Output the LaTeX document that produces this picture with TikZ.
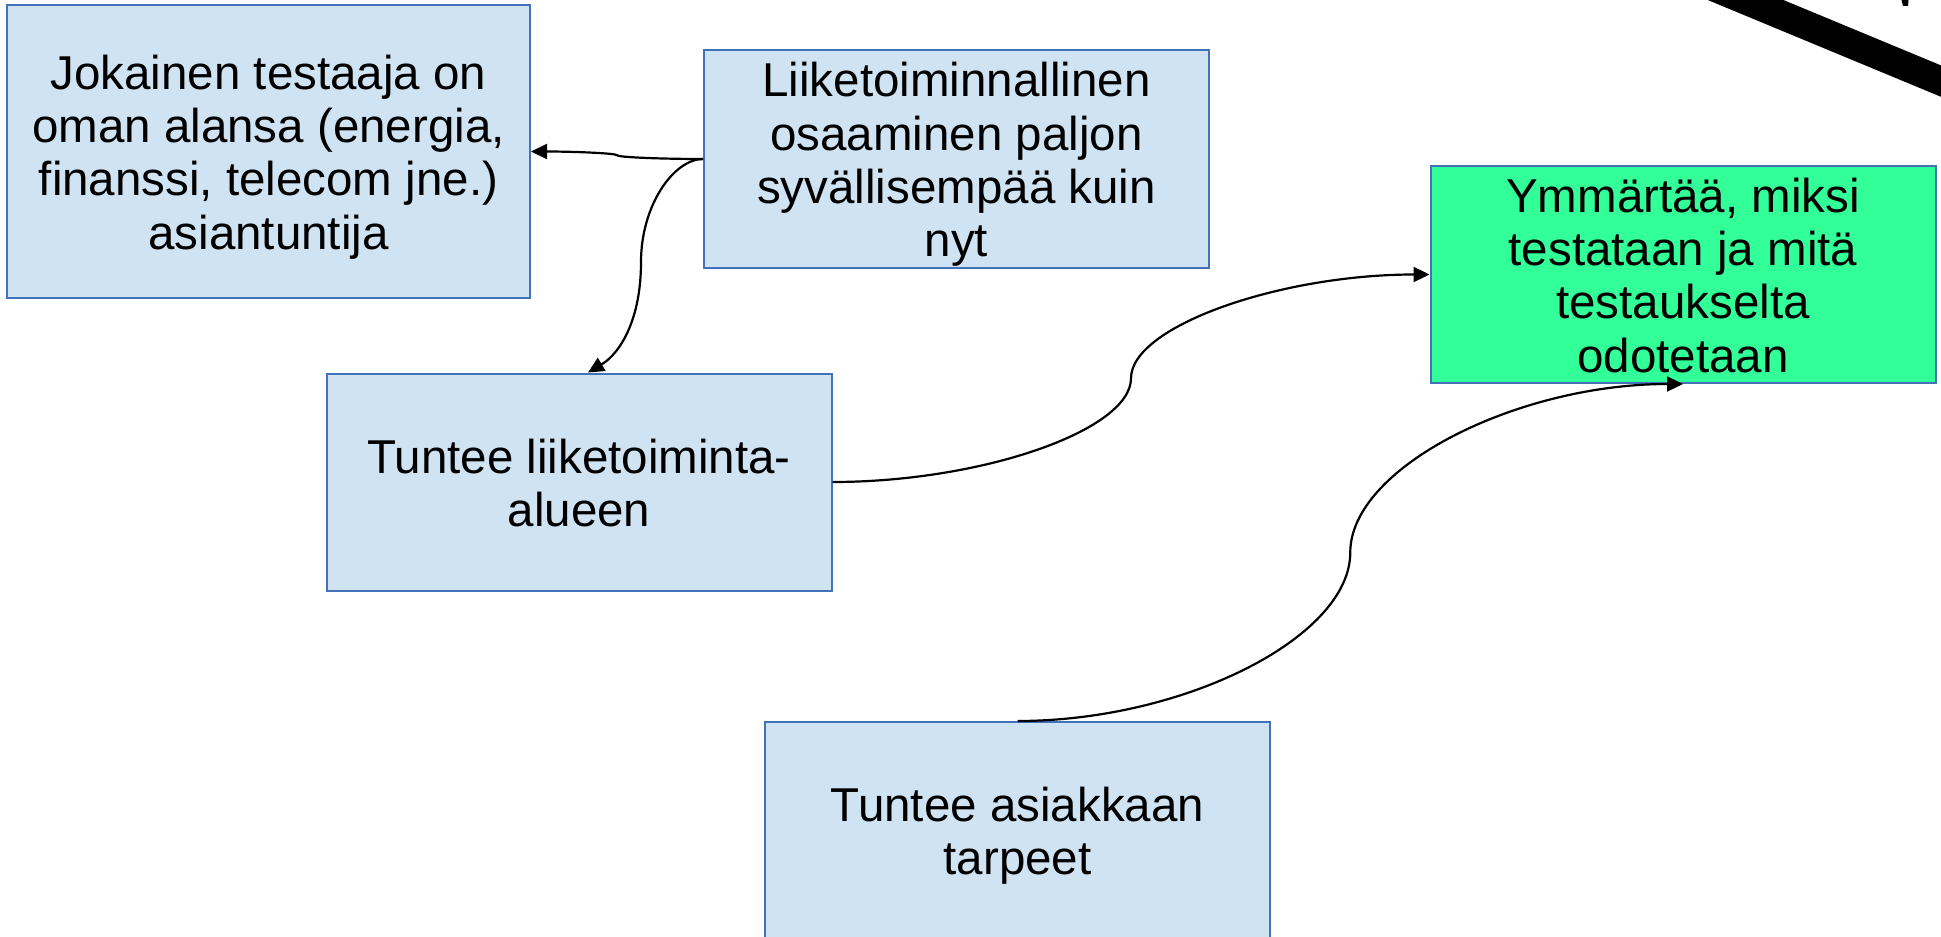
\documentclass[tikz,border=0pt]{standalone}
\usepackage{fontspec}
\setmainfont{Liberation Sans}
\usetikzlibrary{arrows.meta,calc}
\definecolor{boxline}{RGB}{68,114,186}
\definecolor{boxfill}{RGB}{207,227,242}
\definecolor{goalfill}{RGB}{51,255,153}
\begin{document}
\begin{tikzpicture}[x=0.5pt,y=-0.5pt,
  box/.style={draw=boxline, line width=1pt, fill=boxfill, rectangle, inner sep=0pt,
              minimum width=252.5pt, minimum height=108.5pt},
  goal/.style={box, fill=goalfill},
  txt/.style={inner sep=0pt, align=center, font=\fontsize{23.75pt}{26.65pt}\selectfont},
  conn/.style={line width=1.1pt, -{Triangle[length=8pt,width=7.5pt]}}]
\useasboundingbox (0,0) rectangle (1941,936);
\clip (0,0) rectangle (1941,936);
\fill[white] (0,0) rectangle (1941,936);

% boxes
\node[box, minimum width=261.5pt, minimum height=146.5pt] (b1) at (268.5,151.5) {};
\node[box] (b2) at (956.5,159) {};
\node[box] (b3) at (579,482) {};
\node[goal] (b4) at (1683,274.5) {};
\node[box] (b5) at (1017.5,830.5) {};

% texts
\node[txt] (t1) at (268.5,158.6) {\strut Jokainen testaaja on\\ \strut oman alansa (energia,\\ \strut finanssi, telecom jne.)\\ \strut asiantuntija};
\node[txt] (t2) at (956.5,166.1) {\strut Liiketoiminnallinen\\ \strut osaaminen paljon\\ \strut syvällisempää kuin\\ \strut nyt};
\node[txt] (t3) at (579,489.1) {\strut Tuntee liiketoiminta-\\ \strut alueen};
\node[txt] (t4) at (1683,281.6) {\strut Ymmärtää, miksi\\ \strut testataan ja mitä\\ \strut testaukselta\\ \strut odotetaan};
\node[txt] (t5) at (1017.5,837.6) {\strut Tuntee asiakkaan\\ \strut tarpeet};

% connector midpoints
\coordinate (m1) at ($(b2.west)!0.5!(b1.east)$);
\coordinate (m2) at ($(b2.west)+(-62,103)$);
\coordinate (e2) at ($(b3.north)+(9,0)$);
\coordinate (m3) at ($(b3.east)!0.5!(b4.west)$);
\coordinate (m4) at ($(b5.north)!0.5!(b4.south)$);

% connectors
\draw[conn] (b2.west) .. controls +(-43.5,0) and +(0,1.9) .. (m1)
                      .. controls +(0,-1.9) and +(43.5,0) .. (b1.east);
\draw[conn] (b2.west) .. controls +(-29,0) and +(0,-57) .. (m2)
                      .. controls +(0,58) and +(32,-19) .. (e2);
\draw[conn] (b3.east) .. controls +(149.5,0) and +(0,51.9) .. (m3)
                      .. controls +(0,-51.9) and +(-149.5,0) .. (b4.west);
\draw[conn] (b5.north) .. controls +(166.4,0) and +(0,84.75) .. (m4)
                       .. controls +(0,-84.75) and +(-166.4,0) .. (b4.south);

% heavy black stroke entering at the top right corner
\draw[line width=14.5pt] (1600,-60.4) -- (2100,147.1);
\fill (1901.5,0) -- (1908.5,0) -- (1908,6) -- (1903,6) -- cycle;
\end{tikzpicture}
\end{document}
